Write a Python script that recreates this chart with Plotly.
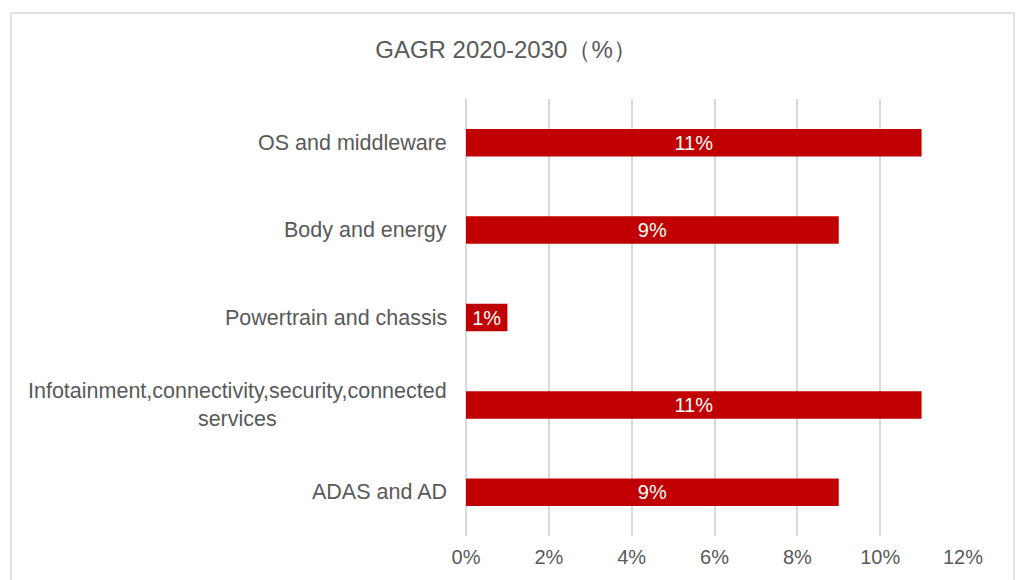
import plotly.graph_objects as go

# Segment growth rates, top to bottom
categories = [
    "OS and middleware",
    "Body and energy",
    "Powertrain and chassis",
    "Infotainment,connectivity,security,connected<br>services",
    "ADAS and AD",
]
cagr_pct = [11, 9, 1, 11, 9]
tick_values = [0, 2, 4, 6, 8, 10, 12]
tick_labels = [f"{v}%" for v in tick_values]

title_text = "GAGR 2020-2030（%）"

W, H = 1019, 580
ML, MR, MT, MB = 466, 56, 99, 44
TEXT = "#595959"
GRID = "#D9D9D9"
BAR = "#C00000"
FONT = "Liberation Sans, Arial, sans-serif"

fig = go.Figure()
fig.add_trace(go.Bar(
    y=categories,
    x=cagr_pct,
    orientation="h",
    marker=dict(color=BAR, line=dict(width=0)),
    text=[f"{v}%" for v in cagr_pct],
    textposition="inside",
    insidetextanchor="middle",
    textangle=0,
    constraintext="none",
    textfont=dict(color="white", size=20, family=FONT),
    hoverinfo="skip",
))

# Category labels, centred per line
for cat in categories:
    fig.add_annotation(
        x=0, xref="paper", xanchor="right", xshift=-17,
        y=cat, yref="y", yanchor="middle",
        text=cat, showarrow=False, align="center",
        font=dict(size=21.5, color=TEXT, family=FONT),
    )

pw = W - ML - MR
ph = H - MT - MB
# Light frame around the whole chart
fig.add_shape(
    type="rect", xref="paper", yref="paper",
    x0=(11 - ML) / pw, x1=(1014 - ML) / pw,
    y0=-0.2, y1=(H - MB - 13) / ph,
    line=dict(color=GRID, width=1.5), fillcolor="rgba(0,0,0,0)", layer="below",
)

fig.update_layout(
    width=W, height=H,
    margin=dict(l=ML, r=MR, t=MT, b=MB),
    paper_bgcolor="white", plot_bgcolor="white",
    showlegend=False,
    bargap=0.685,
    title=dict(
        text=title_text, x=506 / W, xref="container", xanchor="center",
        y=1 - 50 / H, yref="container", yanchor="middle",
        font=dict(size=24, color=TEXT, family=FONT),
    ),
    font=dict(family=FONT, color=TEXT, size=20),
)
fig.update_xaxes(
    range=[0, 12], tickvals=tick_values, ticktext=tick_labels,
    showgrid=True, gridcolor=GRID, gridwidth=1.5,
    zeroline=True, zerolinecolor=GRID, zerolinewidth=1.5,
    showline=False, ticks="", ticklabelstandoff=7,
    tickfont=dict(size=20, color=TEXT, family=FONT),
    fixedrange=True,
)
fig.update_yaxes(
    categoryorder="array", categoryarray=categories, autorange="reversed",
    showticklabels=False, showgrid=False, zeroline=False, showline=False,
    ticks="", fixedrange=True,
)

fig.write_html("out.html")
